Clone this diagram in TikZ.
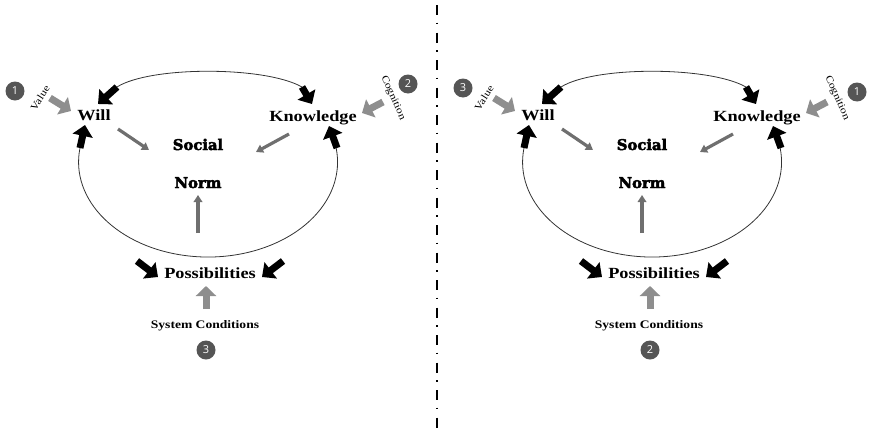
\documentclass[tikz,border=0pt]{standalone}
\usepackage{fontspec}
\setmainfont{Liberation Serif}
\newfontfamily\lblfont[FakeStretch=1.18]{Liberation Serif}
\newfontfamily\normfont[BoldFeatures={FakeBold=3}]{DejaVu Serif}
\newfontfamily\numfont{Open Sans}
\usetikzlibrary{arrows.meta}

\definecolor{inkgray}{HTML}{6F6F6F}
\definecolor{softgray}{HTML}{8E8E8E}
\definecolor{badgegray}{HTML}{555555}
\definecolor{arcline}{HTML}{333333}

\tikzset{
  factor/.style={font=\lblfont\bfseries\fontsize{15.5}{18}\selectfont, inner sep=0pt, anchor=base},
  normtext/.style={font=\normfont\bfseries\fontsize{14.8}{17}\selectfont, inner sep=0pt, anchor=base},
  sourcetext/.style={font=\lblfont\bfseries\fontsize{11.5}{14}\selectfont, inner sep=0pt, anchor=base},
  tagtext/.style={font=\lblfont\fontsize{10}{12}\selectfont, inner sep=0pt},
  badge/.style={circle, fill=badgegray, minimum size=19pt, inner sep=0pt, text=white,
    font=\numfont\fontsize{11}{13}\selectfont},
  cycleline/.style={arcline, line width=0.8pt},
  feedback/.style={black, line width=7pt, -{Triangle[width=20pt,length=11pt]}},
  inflow/.style={softgray, line width=7pt, -{Triangle[width=20pt,length=10pt]}},
  shaping/.style={inkgray, line width=3.2pt, -{Triangle[width=8.5pt,length=7pt]}},
  divider/.style={black, line width=2pt, dash pattern=on 10pt off 7.5pt on 1.5pt off 8.5pt},
}

% One social-norm loop.
% #1 value badge, #2 its position, #3 cognition badge, #4 its position, #5 system badge
\newcommand\normpanel[5]{%
  \node[factor] (will) at (94,120) {Will};
  \node[factor] (know) at (313,121) {Knowledge};
  \node[normtext] (social) at (198,150) {Social};
  \node[normtext] (norm) at (198,188) {Norm};
  \node[factor] (poss) at (210,278) {Possibilities};
  \node[sourcetext] (sys) at (205,328) {System Conditions};
  \node[badge] (bval) at (#2) {#1};
  \node[badge] (bcog) at (#4) {#3};
  \node[badge] (bsys) at (206,350) {#5};
  \node[tagtext, rotate=57] (value) at (40,98) {Value};
  \node[tagtext, rotate=-66] (cog) at (393,98) {Cognition};
  % ends of the feedback arrows
  \coordinate (wt0) at (117,87);  \coordinate (wt1) at (98,104);
  \coordinate (kt0) at (302,87);  \coordinate (kt1) at (312,104);
  \coordinate (wb0) at (80,148);  \coordinate (wb1) at (85,125);
  \coordinate (kb0) at (337,148); \coordinate (kb1) at (329,126);
  \coordinate (pl0) at (137,261); \coordinate (pl1) at (158,277);
  \coordinate (pr0) at (283,261); \coordinate (pr1) at (262,277);
  % ends of the input arrows
  \coordinate (vi0) at (50,98);   \coordinate (vi1) at (71,111);
  \coordinate (ci0) at (383,102); \coordinate (ci1) at (362,113);
  \coordinate (si0) at (206,309); \coordinate (si1) at (206,286);
  % ends of the arrows shaping the norm
  \coordinate (ws0) at (118,129); \coordinate (ws1) at (149,150);
  \coordinate (ks0) at (289,134); \coordinate (ks1) at (256,152);
  \coordinate (ps0) at (198,233); \coordinate (ps1) at (198,195);
  % loop lines
  \draw[cycleline] (wt0) .. controls (150,66) and (265,66) .. (kt0);
  \draw[cycleline] (wb0) arc[start angle=188.5, end angle=-8.5, x radius=129.5, y radius=95];
  % arrows
  \foreach \a in {wt,kt,wb,kb,pl,pr} \draw[feedback] (\a0) -- (\a1);
  \foreach \a in {vi,ci,si} \draw[inflow] (\a0) -- (\a1);
  \foreach \a in {ws,ks,ps} \draw[shaping] (\a0) -- (\a1);
}

\begin{document}
\begin{tikzpicture}[x=1pt, y=-1pt]
  \useasboundingbox (0,0) rectangle (869,434);
  \begin{scope}[name prefix=L-]
    \normpanel{1}{15,91}{2}{408,84}{3}
  \end{scope}
  \begin{scope}[xshift=444pt, name prefix=R-]
    \normpanel{3}{19,88}{1}{413,92}{2}
  \end{scope}
  \coordinate (divtop) at (436.5,5);
  \coordinate (divbot) at (436.5,434);
  \draw[divider] (divtop) -- (divbot);
\end{tikzpicture}
\end{document}
